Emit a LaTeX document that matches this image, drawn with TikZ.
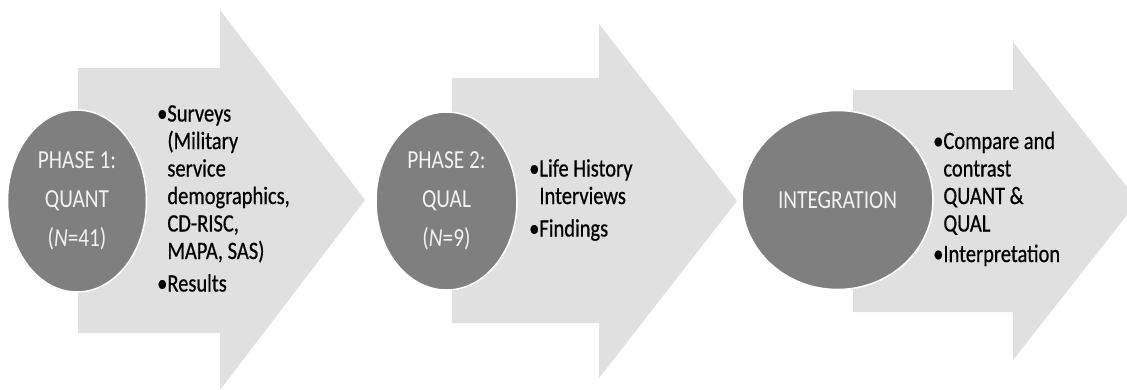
\documentclass[tikz,border=0pt]{standalone}
\usepackage{fontspec}
\setmainfont{Carlito}
\newfontfamily\narrowfont[FakeStretch=0.82]{Carlito}
\newfontfamily\listfont[FakeStretch=0.82,FakeBold=0.6]{Carlito}
\usetikzlibrary{shapes.geometric}
\definecolor{arrowgray}{HTML}{E0E0E0}
\definecolor{discgray}{HTML}{7F7F7F}
\definecolor{disctext}{HTML}{F2F2F2}
\begin{document}
\begin{tikzpicture}[x=1pt,y=-1pt,
  bigarrow/.style={fill=arrowgray,draw=none},
  disc/.style={ellipse,fill=discgray,draw=white,line width=1.5pt,inner sep=0pt,
    text=disctext,align=center,font=\narrowfont\fontsize{26}{39}\selectfont},
  listtext/.style={inner sep=0pt,anchor=west,font=\listfont\fontsize{25}{27.5}\selectfont}]
% canvas
\path[use as bounding box,fill=white] (0,0) rectangle (1127,389);
\clip (0,0) rectangle (1127,389);

% block arrows
\fill[bigarrow] (78,68) -- (220,68) -- (220,10) -- (365,200) -- (220,390)
  -- (220,333) -- (78,333) -- cycle;
\fill[bigarrow] (452,78) -- (599,78) -- (599,24) -- (737,201) -- (599,378)
  -- (599,323) -- (452,323) -- cycle;
\fill[bigarrow] (853,90) -- (1013,90) -- (1013,42) -- (1138,201) -- (1013,360)
  -- (1013,312) -- (853,312) -- cycle;

% phase discs
\node[disc,minimum width=139pt,minimum height=182pt] (p1) at (77,201)
  {PHASE 1:\\QUANT\\(\textit{N}=41)};
\node[disc,minimum width=141pt,minimum height=178pt] (p2) at (446.5,201)
  {PHASE 2:\\QUAL\\(\textit{N}=9)};
\node[disc,minimum width=191pt,minimum height=179pt] (p3) at (837.5,200)
  {INTEGRATION};

% bullet lists
\node[listtext] (l1) at (157,201) {\begin{tabular}{@{}l@{}l@{}}
  •&Surveys\\&(Military\\&service\\&demographics,\\&CD-RISC,\\&MAPA, SAS)\\[5pt]
  •&Results\end{tabular}};
\node[listtext] (l2) at (529,201) {\begin{tabular}{@{}l@{}l@{}}
  •&Life History\\&Interviews\\[5pt]
  •&Findings\end{tabular}};
\node[listtext] (l3) at (933,200) {\begin{tabular}{@{}l@{}l@{}}
  •&Compare and\\&contrast\\&QUANT \&\\&QUAL\\[3pt]
  •&Interpretation\end{tabular}};
\end{tikzpicture}
\end{document}
